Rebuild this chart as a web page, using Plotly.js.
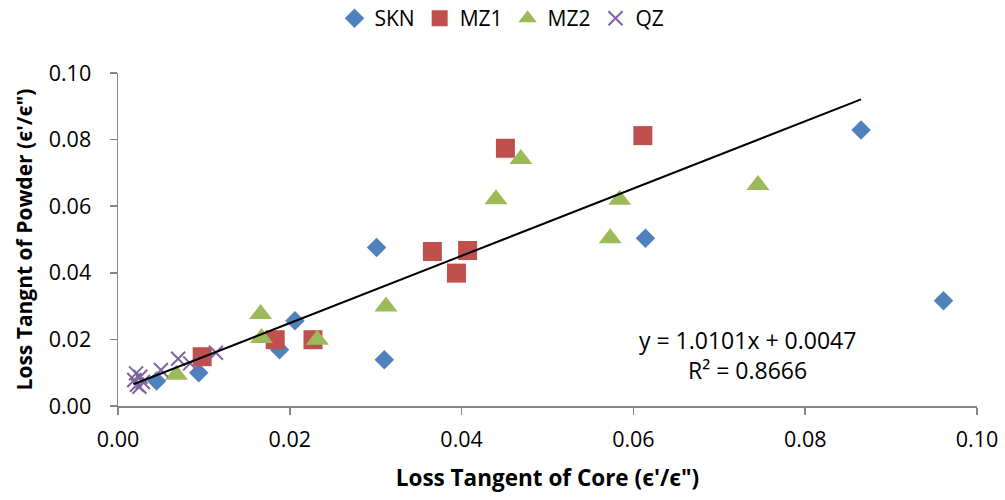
<!DOCTYPE html>
<html>
<head>
<meta charset="utf-8">
<script src="https://cdn.plot.ly/plotly-3.0.1.min.js"></script>
<style>
  html, body { margin: 0; padding: 0; background: #fff; }
  #chart { width: 1005px; height: 500px; }
</style>
</head>
<body>
<div id="chart"></div>
<script>
// Loss tangent of powder vs core, per sample group
const sknCore   = [0.0865, 0.0961, 0.0614, 0.0301, 0.0310, 0.0206, 0.0188, 0.0094, 0.0045];
const sknPowder = [0.0829, 0.0316, 0.0504, 0.0476, 0.0139, 0.0256, 0.0169, 0.0100, 0.0075];

const mz1Core   = [0.0611, 0.0451, 0.0366, 0.0407, 0.0394, 0.0183, 0.0227, 0.0098];
const mz1Powder = [0.0812, 0.0774, 0.0464, 0.0467, 0.0399, 0.0199, 0.0199, 0.0148];

const mz2Core   = [0.0745, 0.0584, 0.0573, 0.0469, 0.0440, 0.0312, 0.0166, 0.0167, 0.0232, 0.0068];
const mz2Powder = [0.0664, 0.0619, 0.0504, 0.0742, 0.0621, 0.0299, 0.0276, 0.0204, 0.0199, 0.0094];

const qzCore    = [0.0114, 0.0084, 0.0070, 0.0050, 0.0021, 0.0026, 0.0019, 0.0029, 0.0022, 0.0025];
const qzPowder  = [0.0160, 0.0128, 0.0142, 0.0108, 0.0098, 0.0088, 0.0078, 0.0072, 0.0064, 0.0058];

// Linear fit over all groups
const fitSlope = 1.0101;
const fitIntercept = 0.0047;
const fitR2 = 0.8666;
const fitRange = [0.0018, 0.0865];

const xTicks = [0, 0.02, 0.04, 0.06, 0.08, 0.10];
const yTicks = [0, 0.02, 0.04, 0.06, 0.08, 0.10];
const tickText = ['0.00', '0.02', '0.04', '0.06', '0.08', '0.10'];

const FONT = 'Open Sans, Noto Sans, sans-serif';
const AXIS_GREY = '#868686';

const traces = [
  { name: 'SKN', x: sknCore, y: sknPowder, type: 'scatter', mode: 'markers',
    marker: { symbol: 'diamond', size: 15, color: '#4F81BD' } },
  { name: 'MZ1', x: mz1Core, y: mz1Powder, type: 'scatter', mode: 'markers',
    marker: { symbol: 'square', size: 19, color: '#C0504D' } },
  { name: 'MZ2', x: mz2Core, y: mz2Powder, type: 'scatter', mode: 'markers',
    marker: { symbol: 'triangle-up', size: 20, color: '#9BBB59' } },
  { name: 'QZ', x: qzCore, y: qzPowder, type: 'scatter', mode: 'markers',
    marker: { symbol: 'x-thin-open', size: 14, color: '#8064A2', line: { width: 2, color: '#8064A2' } } },
  { name: 'fit', x: fitRange, y: fitRange.map(v => fitSlope * v + fitIntercept),
    type: 'scatter', mode: 'lines', showlegend: false, hoverinfo: 'skip',
    line: { color: '#000', width: 2 } }
];

const layout = {
  width: 1005, height: 500,
  margin: { l: 117.5, r: 27.5, t: 73, b: 93.5, autoexpand: false },
  paper_bgcolor: '#fff', plot_bgcolor: '#fff',
  font: { family: FONT, size: 21, color: '#000' },
  showlegend: true,
  legend: {
    orientation: 'h', x: 0.447, xanchor: 'center', y: 1.225, yanchor: 'top',
    font: { family: FONT, size: 21, color: '#000' },
    itemwidth: 30, tracegroupgap: 0, bgcolor: 'rgba(0,0,0,0)'
  },
  xaxis: {
    range: [0, 0.10], tickvals: xTicks, ticktext: tickText,
    showgrid: false, zeroline: false, showline: true,
    linecolor: AXIS_GREY, linewidth: 1.5,
    ticks: 'outside', ticklen: 7, tickwidth: 1.5, tickcolor: AXIS_GREY,
    ticklabelstandoff: 7,
    tickfont: { family: FONT, size: 21.5, color: '#000' },
    title: { text: 'Loss Tangent of Core (ϵ\'/ϵ")', standoff: 18,
             font: { family: FONT, size: 22.5, color: '#000', weight: 'bold' } }
  },
  yaxis: {
    range: [0, 0.10], tickvals: yTicks, ticktext: tickText,
    showgrid: false, zeroline: false, showline: true,
    linecolor: AXIS_GREY, linewidth: 1.5,
    ticks: 'outside', ticklen: 7, tickwidth: 1.5, tickcolor: AXIS_GREY,
    ticklabelstandoff: 14,
    tickfont: { family: FONT, size: 21.5, color: '#000' },
    title: { text: 'Loss Tangnt of Powder (ϵ\'/ϵ")', standoff: 10,
             font: { family: FONT, size: 21, color: '#000', weight: 'bold' } }
  },
  annotations: [
    { xref: 'x', yref: 'y', x: 0.0733, y: 0.0198, showarrow: false,
      text: 'y = ' + fitSlope.toFixed(4) + 'x + ' + fitIntercept.toFixed(4),
      font: { family: FONT, size: 23, color: '#000' } },
    { xref: 'x', yref: 'y', x: 0.0733, y: 0.0108, showarrow: false,
      text: 'R² = ' + fitR2.toFixed(4),
      font: { family: FONT, size: 23, color: '#000' } }
  ]
};

Plotly.newPlot('chart', traces, layout, { displayModeBar: false, staticPlot: true });
</script>
</body>
</html>
